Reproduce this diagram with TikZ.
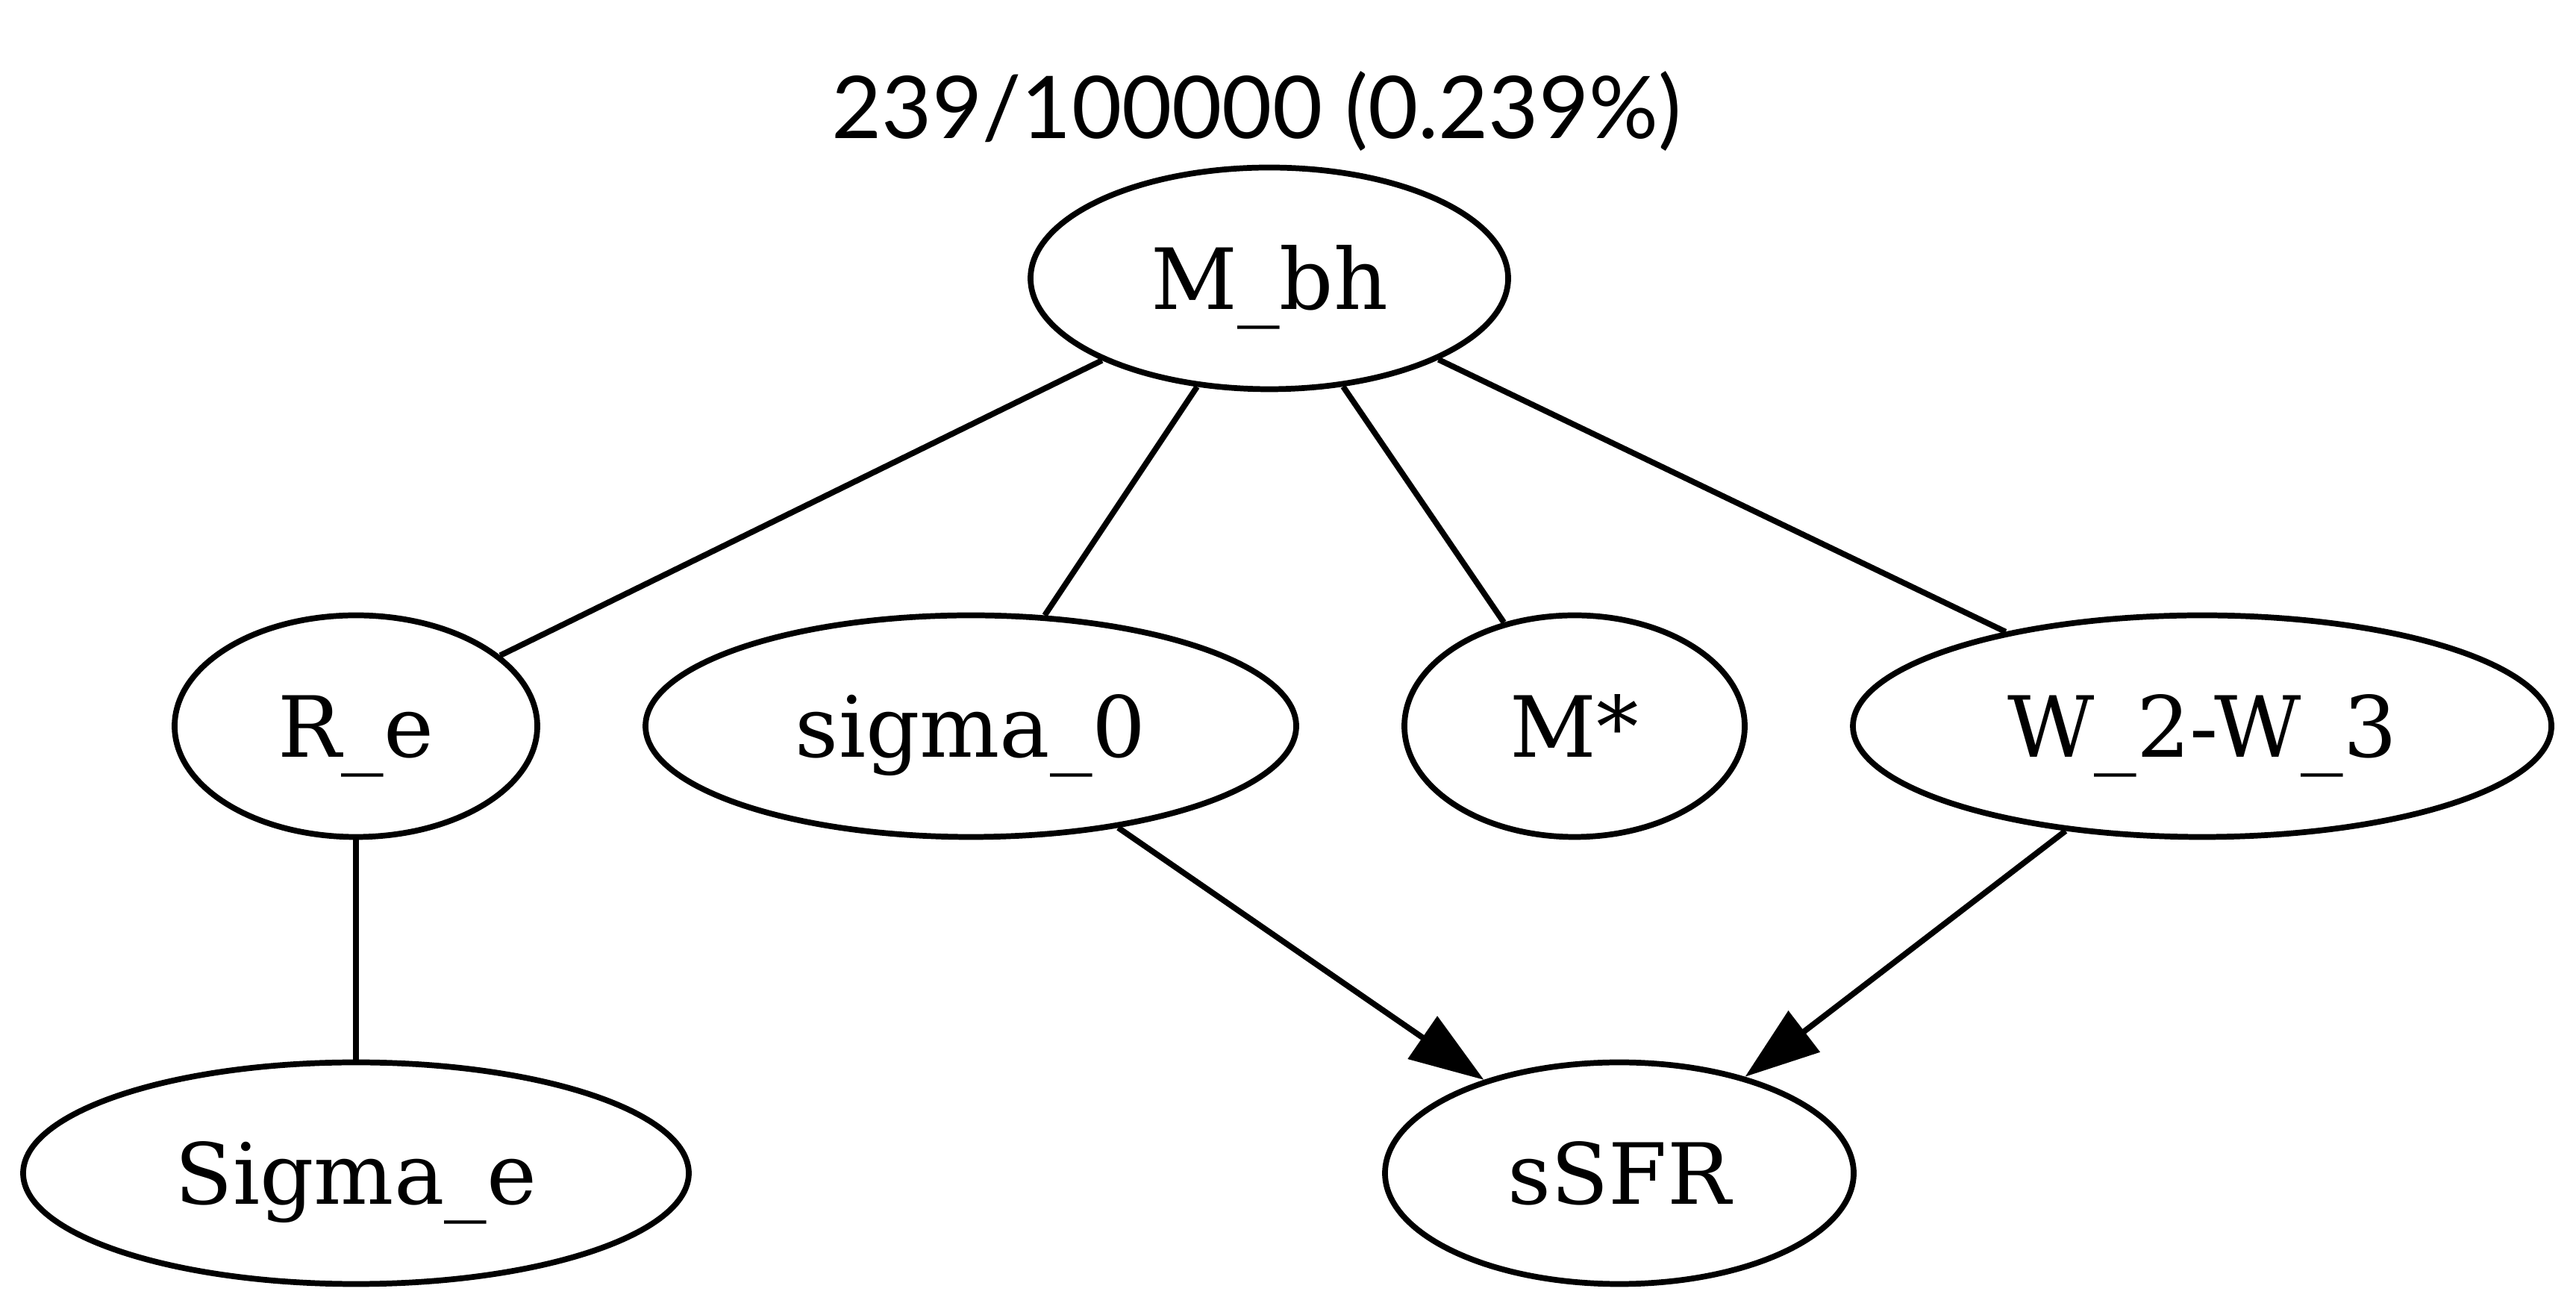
\documentclass[tikz,border=0pt]{standalone}
\usepackage{fontspec}
\setmainfont{DejaVu Serif}
\newfontfamily\titlefont{Lato}
\usepackage{tikz}
\usetikzlibrary{arrows.meta, shapes.geometric}

\begin{document}
\begin{tikzpicture}[
    var/.style={ellipse, draw, line width=2.2pt, inner sep=0pt, minimum height=2.97cm,
      text height=0.83cm, text depth=0pt, font=\fontsize{32.2}{38}\selectfont},
    link/.style={line width=2.2pt},
    cause/.style={line width=2.2pt, -{Triangle[length=1cm, width=0.68cm]}}]
      \useasboundingbox (0,0) rectangle (34.52,17.58);
      \node[font=\titlefont\fontsize{33}{40}\selectfont, anchor=base] (title) at (16.84,15.72) {239/100000 (0.239\%)};
      \foreach \n/\x/\y/\w/\t in {
        mbh/17.01/13.85/6.40/M\_bh,
        re/4.77/7.85/4.86/R\_e, sig0/13.01/7.85/8.72/sigma\_0,
        mstar/21.10/7.85/4.56/M*, w23/29.51/7.85/9.36/W\_2-W\_3,
        sige/4.77/1.86/8.92/Sigma\_e, ssfr/21.70/1.86/6.28/sSFR}{
        \node[var, minimum width=\w cm] (\n) at (\x,\y) {\t};
      }
      \foreach \a/\b in {mbh/re, mbh/sig0, mbh/mstar, mbh/w23, re/sige}{
        \draw[link] (\a) -- (\b);
      }
      \draw[cause] (sig0) -- (ssfr);
      \draw[cause] (w23) -- (ssfr);
    \end{tikzpicture}
\end{document}
